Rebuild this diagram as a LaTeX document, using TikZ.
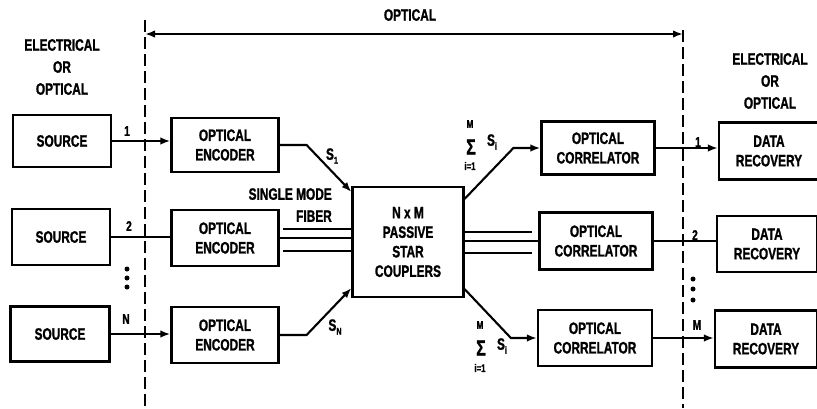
\documentclass[tikz,border=0pt]{standalone}
\usepackage{fontspec}
\setmainfont{Liberation Sans}
\newfontfamily\cond[FakeStretch=0.72,FakeBold=1.2,UprightFont={* Bold},BoldFont={* Bold}]{Liberation Sans}
\usetikzlibrary{arrows.meta}
\begin{document}
\begin{tikzpicture}[x=1pt,y=-1pt,
  box/.style={draw,line width=2.2pt,align=center,inner sep=0pt,
    font=\cond\fontsize{16.5}{19.5}\selectfont},
  txt/.style={align=center,inner sep=0pt,font=\cond\fontsize{16.5}{22}\selectfont},
  num/.style={inner sep=0pt,font=\cond\fontsize{14}{14}\selectfont},
  sml/.style={inner sep=0pt,font=\cond\fontsize{11}{11}\selectfont},
  sig/.style={inner sep=0pt,font=\cond\fontsize{22}{22}\selectfont},
  wire/.style={line width=2.1pt},
  arr/.style={wire,-{Latex[length=10pt,width=7.5pt]}},
  dashline/.style={line width=2pt,dash pattern=on 12pt off 5pt},
  dot/.style={circle,fill,inner sep=0pt,minimum size=5pt}]
\useasboundingbox (0,0) rectangle (817,408);

% boundaries
\coordinate (dlt) at (145,20); \coordinate (dlb) at (145,408);
\coordinate (drt) at (683,30); \coordinate (drb) at (683,408);
\draw[dashline] (dlt) -- (dlb);
\draw[dashline] (drt) -- (drb);
\coordinate (oa) at (145,34); \coordinate (ob) at (683,34);
\draw[wire,{Latex[length=10pt,width=7.5pt]}-{Latex[length=10pt,width=7.5pt]}] (oa) -- (ob);
\node[txt] (optlbl) at (410,15) {OPTICAL};
\node[txt] (leftlbl) at (62,67) {ELECTRICAL\\OR\\OPTICAL};
\node[txt] (rightlbl) at (770,81) {ELECTRICAL\\OR\\OPTICAL};

% sources
\node[box,minimum width=98pt,minimum height=52pt] (src1) at (62,141) {SOURCE};
\node[box,minimum width=98pt,minimum height=56pt] (src2) at (61,237) {SOURCE};
\node[box,minimum width=99pt,minimum height=55pt] (src3) at (60,334) {SOURCE};

% encoders
\node[box,minimum width=107pt,minimum height=54pt] (enc1) at (225,145) {OPTICAL\\ENCODER};
\node[box,minimum width=107pt,minimum height=56pt] (enc2) at (225,238) {OPTICAL\\ENCODER};
\node[box,minimum width=107pt,minimum height=56pt] (enc3) at (225,335) {OPTICAL\\ENCODER};

% star
\node[box,minimum width=111pt,minimum height=110pt] (star) at (408,242) {N x M\\PASSIVE\\STAR\\COUPLERS};

% correlators
\node[box,minimum width=113pt,minimum height=53pt] (cor1) at (598,148) {OPTICAL\\CORRELATOR};
\node[box,minimum width=113pt,minimum height=57pt] (cor2) at (596,241) {OPTICAL\\CORRELATOR};
\node[box,minimum width=114pt,minimum height=56pt] (cor3) at (595,338) {OPTICAL\\CORRELATOR};

% data recovery
\node[box,minimum width=100pt,minimum height=57pt] (dr1) at (769,151) {DATA\\RECOVERY};
\node[box,minimum width=100pt,minimum height=56pt] (dr2) at (767,244) {DATA\\RECOVERY};
\node[box,minimum width=102pt,minimum height=57pt] (dr3) at (766,339) {DATA\\RECOVERY};

% source -> encoder
\draw[arr] (src1.east) -- (enc1.west |- src1.east);
\draw[wire] (src2.east) -- (enc2.west |- src2.east);
\draw[arr] (src3.east) -- (enc3.west |- src3.east);
\node[num] (n1) at (127,131) {1};
\node[num] (n2) at (129,226) {2};
\node[num] (nN) at (126,319) {N};
\node[dot] (ld1) at (127,269) {};
\node[dot] (ld2) at (127,278) {};
\node[dot] (ld3) at (127,287) {};

% encoders -> star
\draw[arr] (enc1.east) -- ++(27,0) -- ([yshift=-6pt]star.north west);
\draw[arr] (enc3.east) -- ++(27,0) -- ([yshift=10pt]star.south west);
\node[txt] (s1) at (332,156) {S\raisebox{-0.45ex}{\fontsize{10}{10}\selectfont 1}};
\node[txt] (sN) at (335,327) {S\raisebox{-0.45ex}{\fontsize{10}{10}\selectfont N}};
\coordinate (f1a) at (283,229); \coordinate (f3a) at (283,251);
\draw[wire] (f1a) -- (star.west |- f1a);
\draw[wire] (enc2.east) -- (star.west |- enc2.east);
\draw[wire] (f3a) -- (star.west |- f3a);
\node[txt,anchor=east,align=right] (smf) at (332,205) {SINGLE MODE\\FIBER};

% star -> correlators
\draw[arr] ([yshift=-13pt]star.north east) -- ([xshift=-27pt]cor1.west) -- (cor1.west);
\draw[arr] ([yshift=9pt]star.south east) -- ([xshift=-26pt]cor3.west) -- (cor3.west);
\coordinate (g1a) at (532,232); \coordinate (g3a) at (532,253);
\draw[wire] (star.east |- g1a) -- (g1a);
\draw[wire] (star.east |- cor2.west) -- (cor2.west);
\draw[wire] (star.east |- g3a) -- (g3a);

% sum labels
\node[sml] (m1) at (470,124) {M};
\node[sig] (sig1) at (471,147) {Σ};
\node[txt] (si1) at (492,142) {S\raisebox{-0.45ex}{\fontsize{10}{10}\selectfont i}};
\node[sml] (i1) at (470,166) {i=1};
\node[sml] (m3) at (480,325) {M};
\node[sig] (sig3) at (481,348) {Σ};
\node[txt] (si3) at (502,346) {S\raisebox{-0.45ex}{\fontsize{10}{10}\selectfont i}};
\node[sml] (i3) at (480,368) {i=1};

% correlators -> data recovery
\draw[arr] (cor1.east) -- (dr1.west |- cor1.east);
\draw[wire] (cor2.east) -- (dr2.west |- cor2.east);
\draw[arr] (cor3.east) -- (dr3.west |- cor3.east);
\node[num] (r1) at (698,142) {1};
\node[num] (r2) at (695,235) {2};
\node[num] (rM) at (697,325) {M};
\node[dot] (rd1) at (693,279) {};
\node[dot] (rd2) at (693,289) {};
\node[dot] (rd3) at (693,300) {};
\end{tikzpicture}
\end{document}
